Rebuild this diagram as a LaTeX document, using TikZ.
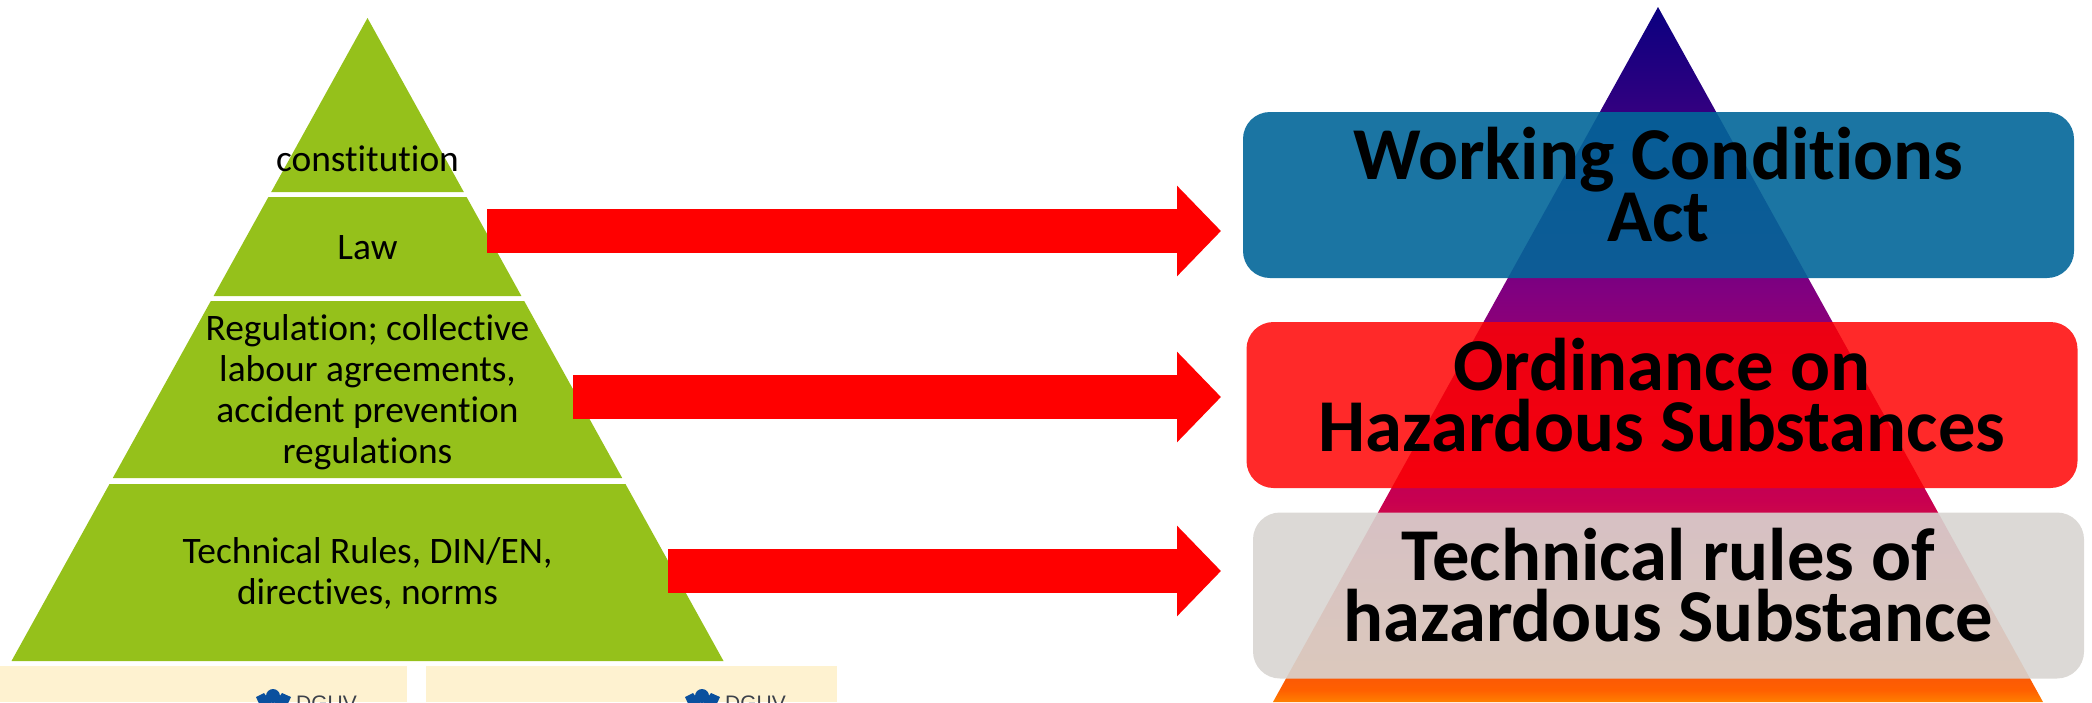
\documentclass[tikz,border=0pt]{standalone}
\usepackage{fontspec}
\setmainfont{Carlito}[Ligatures=NoCommon]
\newfontfamily\logofont{Liberation Sans}
\usetikzlibrary{arrows.meta}
\definecolor{leafgreen}{RGB}{149,193,27}
\definecolor{beige}{RGB}{254,242,208}
\definecolor{dguvblue}{RGB}{10,80,158}
\definecolor{dguvgrey}{RGB}{60,65,75}
\definecolor{boxblue}{RGB}{2,102,153}
\definecolor{boxgrey}{RGB}{216,213,209}
\definecolor{pa}{RGB}{255,128,0}
\definecolor{pb}{RGB}{255,96,0}
\definecolor{pc}{RGB}{200,0,80}
\definecolor{pd}{RGB}{128,0,128}
\definecolor{pe}{RGB}{46,0,128}
\definecolor{pf}{RGB}{10,0,128}
\pgfdeclareverticalshading{pyr}{100bp}{color(0bp)=(pa); color(25bp)=(pa); color(25.86bp)=(pb); color(39.5bp)=(pc); color(54.6bp)=(pd); color(68.3bp)=(pe); color(75bp)=(pf); color(100bp)=(pf)}
\newcommand{\htop}{\rule{0pt}{60pt}}
\newcommand{\hbot}{\rule[-29pt]{0pt}{29pt}}
\newcommand{\ltop}{\rule{0pt}{30pt}}
\newcommand{\lbot}{\rule[-10pt]{0pt}{10pt}}
\tikzset{
  band/.style={fill=leafgreen},
  plainlabel/.style={inner sep=0pt,align=center,text=black,font=\fontsize{37.4}{41}\selectfont},
  titlebox/.style={rounded corners=27pt,inner sep=0pt,minimum width=831pt,minimum height=166pt,align=center,text=black,text opacity=1,font=\fontsize{74.6}{61}\selectfont\bfseries},
  blockarrow/.style={draw=red,line width=44pt,-{Triangle[length=44pt,width=88pt,fill=red]}},
  beigebox/.style={fill=beige}
}
\begin{document}
\begin{tikzpicture}[x=1pt,y=-1pt]
\useasboundingbox (0,0) rectangle (2092,702);
\clip (0,0) rectangle (2092,702);
% left pyramid
\fill[band] (367.5,18) -- (463.8,192) -- (271.2,192) -- cycle;
\fill[band] (268.4,197) -- (466.6,197) -- (521.4,296) -- (213.6,296) -- cycle;
\fill[band] (210.8,301) -- (524.2,301) -- (622.2,478) -- (112.8,478) -- cycle;
\fill[band] (109.5,484) -- (625.5,484) -- (723.5,661) -- (11.5,661) -- cycle;
\node[plainlabel,anchor=base] (constitution) at (367.5,171) {constitution};
\node[plainlabel,anchor=base] (law) at (367.5,259) {Law};
\node[plainlabel] (regulation) at (367.5,391.5) {\ltop Regulation; collective\\labour agreements,\\accident prevention\\regulations\lbot};
\node[plainlabel] (technical) at (367.5,574) {\ltop Technical Rules, DIN/EN,\\directives, norms\lbot};
% beige panels with logos
\fill[beigebox] (0,666) rectangle (407,702);
\fill[beigebox] (426,666) rectangle (837,702);
\foreach \dx/\nm in {0/a,429/b}{
  \begin{scope}[xshift=\dx pt]
    \fill[dguvblue] (273,696) circle (7);
    \fill[dguvblue] (256,697) -- (264,693) -- (273,705) -- (282,693) -- (291,697) -- (285,710) -- (262,710) -- cycle;
    \node[inner sep=0pt,anchor=base west,text=dguvgrey,font=\logofont\fontsize{21}{21}\selectfont] (dguv\nm) at (296,710.5) {DGUV};
  \end{scope}
}
% right pyramid
\shade[shading=pyr] (1658,7) -- (2043,702) -- (1273,702) -- cycle;
\node[titlebox,fill=boxblue,fill opacity=.9] (act) at (1658.5,195) {\htop Working Conditions\\Act\hbot};
\node[titlebox,fill=red,fill opacity=.84] (ordinance) at (1662,405) {\htop Ordinance on\\Hazardous Substances\hbot};
\node[titlebox,fill=boxgrey,fill opacity=.9] (rules) at (1668.5,595.5) {\htop Technical rules of\\hazardous Substance\hbot};
% arrows
\coordinate (s1) at (487,231); \coordinate (e1) at (1221,231);
\coordinate (s2) at (573,397); \coordinate (e2) at (1221,397);
\coordinate (s3) at (668,571); \coordinate (e3) at (1221,571);
\draw[blockarrow] (s1) -- (e1);
\draw[blockarrow] (s2) -- (e2);
\draw[blockarrow] (s3) -- (e3);
\end{tikzpicture}
\end{document}
